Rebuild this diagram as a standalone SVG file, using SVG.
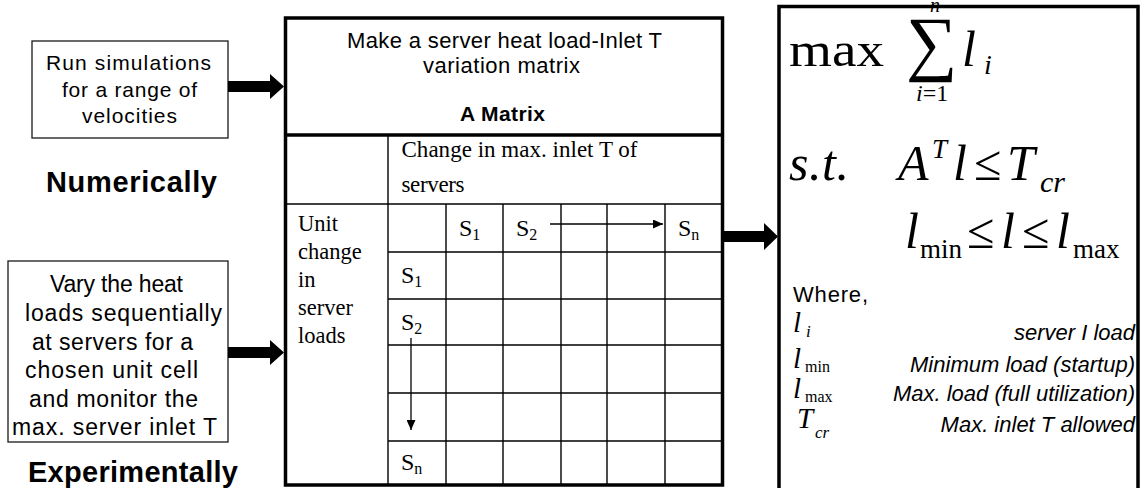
<svg xmlns="http://www.w3.org/2000/svg" width="1147" height="488" viewBox="0 0 1147 488">
  <defs>
    <marker id="tip" markerWidth="10" markerHeight="9" refX="10" refY="4.5" orient="auto" markerUnits="userSpaceOnUse">
      <path d="M0,0 L10,4.5 L0,9 z" fill="#000"/>
    </marker>
    <style>
      .box{fill:#fff;stroke:#1a1a1a;stroke-width:1.3}
      .frame{fill:#fff;stroke:#000;stroke-width:3.5}
      .sans{font-family:"Liberation Sans",Arial,sans-serif;fill:#000}
      .serif{font-family:"Liberation Serif","Times New Roman",serif;fill:#000}
      .it{font-style:italic}
      .b{font-weight:bold}
      .grid{stroke:#000;stroke-width:1.4;fill:none}
      .bar{stroke:#000;stroke-width:3.5;fill:none}
      .thin{stroke:#000;stroke-width:1.3;fill:none}
      .block{fill:#000}
    </style>
  </defs>

  <rect width="1147" height="488" fill="#fff"/>

  <!-- numerical input -->
  <g id="box-simulations">
    <rect class="box" x="32" y="41" width="196" height="97"/>
    <g class="sans" font-size="21">
      <text x="46" y="70" textLength="165">Run simulations</text>
      <text x="62" y="97" textLength="135">for a range of</text>
      <text x="82" y="123" textLength="95">velocities</text>
    </g>
  </g>
  <g id="label-numerically">
    <text class="sans b" font-size="29" x="46" y="192" textLength="171">Numerically</text>
  </g>

  <!-- experimental input -->
  <g id="box-experiment">
    <rect class="box" x="8" y="261" width="220" height="181"/>
    <g class="sans" font-size="23">
      <text x="50" y="291.5" textLength="133">Vary the heat</text>
      <text x="25" y="320.5" textLength="197">loads sequentially</text>
      <text x="32" y="349.5" textLength="161">at servers for a</text>
      <text x="25" y="378" textLength="173">chosen unit cell</text>
      <text x="29" y="406.5" textLength="169">and  monitor the</text>
      <text x="12" y="435" textLength="205">max. server inlet T</text>
    </g>
  </g>
  <g id="label-experimentally">
    <text class="sans b" font-size="29" x="28" y="482" textLength="210">Experimentally</text>
  </g>

  <!-- sensitivity matrix -->
  <g id="matrix">
    <rect class="frame" x="285.5" y="18" width="437" height="467"/>
    <line class="bar" x1="285.5" y1="135" x2="722.5" y2="135"/>
    <line class="grid" x1="285.5" y1="204" x2="722.5" y2="204"/>
    <line class="grid" x1="388" y1="135" x2="388" y2="485"/>
    <g class="grid">
      <line x1="446" y1="204" x2="446" y2="485"/>
      <line x1="503" y1="204" x2="503" y2="485"/>
      <line x1="561" y1="204" x2="561" y2="485"/>
      <line x1="607" y1="204" x2="607" y2="485"/>
      <line x1="665" y1="204" x2="665" y2="485"/>
      <line x1="388" y1="252" x2="722" y2="252"/>
      <line x1="388" y1="299" x2="722" y2="299"/>
      <line x1="388" y1="345" x2="722" y2="345"/>
      <line x1="388" y1="393" x2="722" y2="393"/>
      <line x1="388" y1="441" x2="722" y2="441"/>
    </g>
    <g class="sans" font-size="22">
      <text x="347" y="48" textLength="315">Make a server heat load-Inlet T</text>
      <text x="423" y="72.5" textLength="157">variation matrix</text>
    </g>
    <text class="sans b" font-size="21" x="460" y="120.5" textLength="85">A Matrix</text>
    <g class="serif" font-size="23">
      <text x="401.5" y="156.5" textLength="236">Change in max. inlet T of</text>
      <text x="401.5" y="192" textLength="63">servers</text>
    </g>
    <g class="serif" font-size="22.5">
      <text x="298" y="231">Unit</text>
      <text x="298" y="259">change</text>
      <text x="298" y="287">in</text>
      <text x="298" y="315">server</text>
      <text x="298" y="343">loads</text>
    </g>
    <g class="serif" font-size="24">
      <text x="459" y="236">S<tspan font-size="16" dy="4">1</tspan></text>
      <text x="516" y="236">S<tspan font-size="16" dy="4">2</tspan></text>
      <text x="678" y="236">S<tspan font-size="16" dy="4">n</tspan></text>
      <text x="401" y="283">S<tspan font-size="16" dy="4">1</tspan></text>
      <text x="401" y="330">S<tspan font-size="16" dy="4">2</tspan></text>
      <text x="401" y="470">S<tspan font-size="16" dy="4">n</tspan></text>
    </g>
    <line class="thin" x1="550" y1="224" x2="663" y2="224" marker-end="url(#tip)"/>
    <line class="thin" x1="411" y1="338" x2="411" y2="430" marker-end="url(#tip)"/>
  </g>

  <!-- optimisation problem -->
  <g id="formulation">
    <rect class="frame" x="779" y="6.5" width="359" height="500"/>
    <g class="serif">
      <text x="789" y="66" font-size="48" textLength="95" lengthAdjust="spacingAndGlyphs">max</text>
      <text x="906" y="67" font-size="72">∑</text>
      <text class="it" x="930" y="12" font-size="20">n</text>
      <text x="916" y="101" font-size="24"><tspan class="it">i</tspan>=1</text>
      <text class="it" x="962" y="66" font-size="50">l</text>
      <text class="it" x="984" y="74" font-size="28">i</text>

      <text class="it" x="789" y="180" font-size="50" textLength="60">s.t.</text>
      <text class="it" x="898" y="180" font-size="50">A</text>
      <text class="it" x="932" y="158" font-size="27">T</text>
      <text class="it" x="953" y="180" font-size="50">l</text>
      <text x="974" y="180" font-size="50">≤</text>
      <text class="it" x="1007" y="180" font-size="50">T</text>
      <text class="it" x="1040" y="192" font-size="30">cr</text>

      <text class="it" x="905" y="248" font-size="50">l</text>
      <text x="920" y="258" font-size="27">min</text>
      <text x="967" y="248" font-size="50">≤</text>
      <text class="it" x="1001" y="248" font-size="50">l</text>
      <text x="1022" y="248" font-size="50">≤</text>
      <text class="it" x="1056" y="248" font-size="50">l</text>
      <text x="1073" y="258" font-size="27">max</text>
    </g>
    <text class="sans" font-size="22" x="793" y="301.5" textLength="75">Where,</text>
    <g class="serif">
      <text class="it" x="793" y="332" font-size="29">l</text>
      <text class="it" x="806" y="337" font-size="17">i</text>
      <text class="it" x="793" y="368" font-size="29">l</text>
      <text x="805" y="371.5" font-size="16">min</text>
      <text class="it" x="793" y="398" font-size="29">l</text>
      <text x="805" y="401.5" font-size="16">max</text>
      <text class="it" x="797" y="428" font-size="29">T</text>
      <text class="it" x="815" y="438" font-size="17">cr</text>
    </g>
    <g class="sans it" font-size="22" text-anchor="end">
      <text x="1135" y="339.5">server I load</text>
      <text x="1135" y="371.5">Minimum load (startup)</text>
      <text x="1135" y="401">Max. load (full utilization)</text>
      <text x="1135" y="432">Max. inlet T allowed</text>
    </g>
  </g>

  <!-- block arrows -->
  <g id="connectors" class="block">
    <polygon points="228,81 270,81 270,74 284,86.5 270,99 270,92 228,92"/>
    <polygon points="228,347 270,347 270,340 284,352.5 270,365 270,358 228,358"/>
    <polygon points="723,231 764,231 764,223 778,236.5 764,250 764,242 723,242"/>
  </g>
</svg>
